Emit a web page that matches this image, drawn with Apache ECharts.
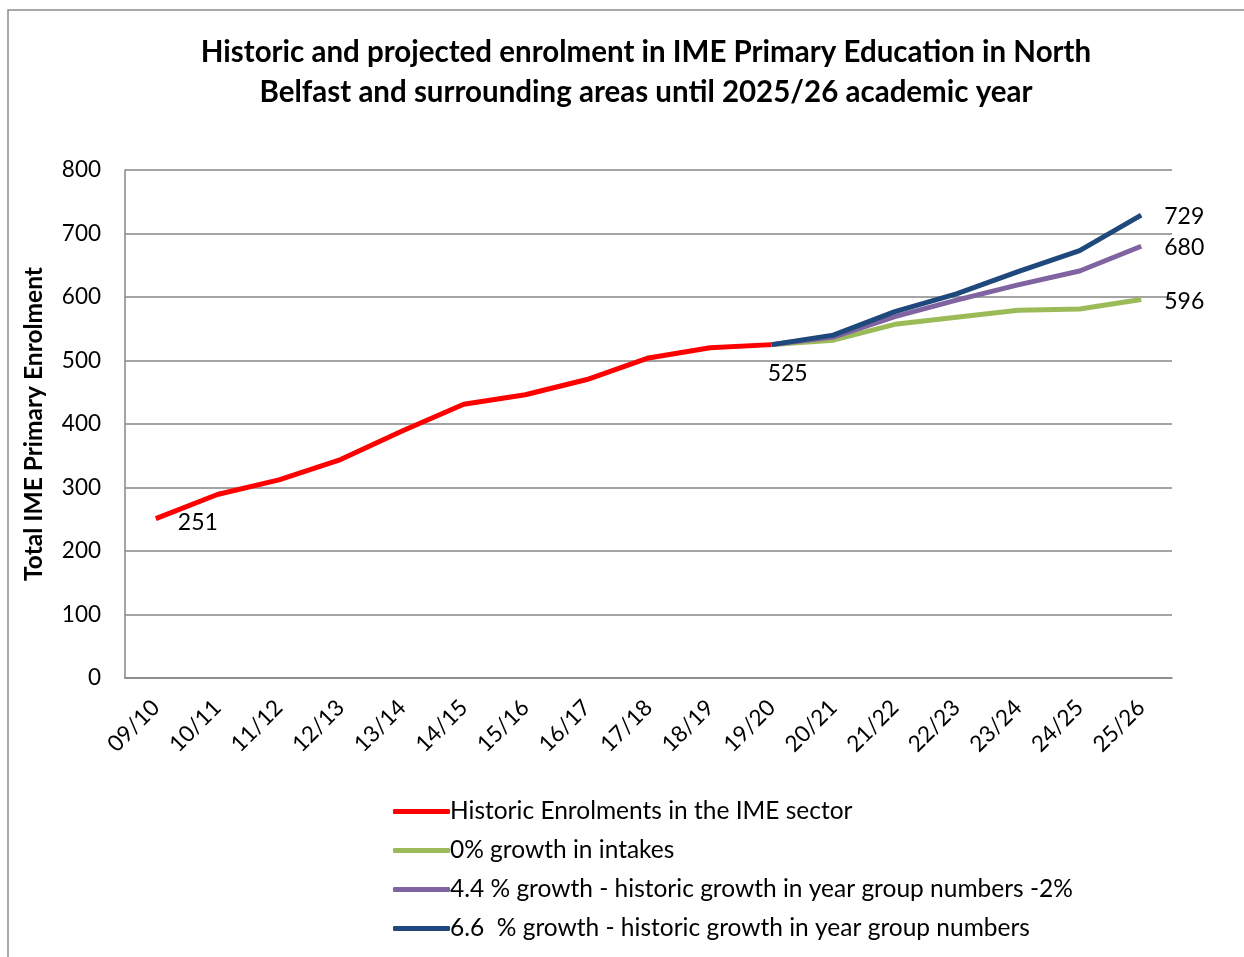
<!DOCTYPE html>
<html>
<head>
<meta charset="utf-8">
<script src="https://cdn.jsdelivr.net/npm/echarts@6/dist/echarts.min.js"></script>
<style>
html,body{margin:0;padding:0;background:#fff;}
#chart{width:1244px;height:957px;}
</style>
</head>
<body>
<div id="chart"></div>
<script>
const categories = ['09/10','10/11','11/12','12/13','13/14','14/15','15/16','16/17','17/18','18/19','19/20','20/21','21/22','22/23','23/24','24/25','25/26'];
const historic = [251, 289, 312, 344, 389, 431, 446, 470, 504, 520, 525, null, null, null, null, null, null];
const growth0 = [null, null, null, null, null, null, null, null, null, null, 525, 532, 557, 568, 579, 581, 596];
const growth44 = [null, null, null, null, null, null, null, null, null, null, 525, 537, 569, 595, 619, 641, 680];
const growth66 = [null, null, null, null, null, null, null, null, null, null, 525, 540, 577, 605, 640, 673, 729];
const seriesNames = ['Historic Enrolments in the IME sector', '0% growth in intakes', '4.4 % growth - historic growth in year group numbers -2%', '6.6  % growth - historic growth in year group numbers'];
const yTicks = [0, 100, 200, 300, 400, 500, 600, 700, 800];

const FONT = 'Lato, "Open Sans", sans-serif';
const labelStyle = {show: true, color: '#000', fontFamily: FONT, fontSize: 23};

function withLabels(arr, labelMap) {
  return arr.map((v, i) => {
    if (labelMap[i] && v !== null) {
      return {value: v, label: Object.assign({}, labelStyle, labelMap[i])};
    }
    return v;
  });
}

const chart = echarts.init(document.getElementById('chart'));
chart.setOption({
  backgroundColor: '#fff',
  animation: false,
  graphic: [{
    type: 'rect',
    shape: {x: 8, y: 10, width: 1260, height: 980},
    style: {fill: 'none', stroke: '#8c8c8c', lineWidth: 1.5},
    silent: true, z: -1
  }],
  title: {
    text: 'Historic and projected enrolment in IME Primary Education in North\nBelfast and surrounding areas until 2025/26 academic year',
    left: 641, top: 27, textAlign: 'center',
    textStyle: {fontFamily: FONT, fontWeight: 'bold', fontSize: 29.5, lineHeight: 40, color: '#000', align: 'center'}
  },
  grid: {left: 125, right: 72, top: 170, bottom: 279, containLabel: false},
  legend: {
    orient: 'vertical', left: 388, top: 794,
    itemWidth: 57, itemHeight: 5, itemGap: 14, icon: 'roundRect',
    textStyle: {fontFamily: FONT, fontSize: 24.5, color: '#000', padding: [0,0,0,-5]},
    data: seriesNames
  },
  xAxis: {
    type: 'category', data: categories, boundaryGap: true,
    axisLine: {show: true, lineStyle: {color: '#868686', width: 1.5}},
    axisTick: {show: false},
    axisLabel: {rotate: 45, margin: 26, color: '#000', fontFamily: FONT, fontSize: 22.5, interval: 0}
  },
  yAxis: {
    type: 'value', min: yTicks[0], max: yTicks[yTicks.length - 1], interval: 100,
    name: 'Total IME Primary Enrolment', nameLocation: 'middle', nameGap: 78,
    nameTextStyle: {fontFamily: FONT, fontWeight: 'bold', fontSize: 24.5, color: '#000'},
    axisLine: {show: true, lineStyle: {color: '#868686', width: 1.5}},
    axisTick: {show: false},
    axisLabel: {margin: 24, color: '#000', fontFamily: FONT, fontSize: 22.5},
    splitLine: {show: true, lineStyle: {color: '#868686', width: 1.5}}
  },
  series: [
    {
      name: seriesNames[0], type: 'line', data: withLabels(historic, {
        0: {position: 'right', distance: 22, offset: [0, 4]},
        10: {position: 'bottom', distance: 17, offset: [16, 0]}
      }),
      symbol: 'circle', symbolSize: 0, showSymbol: true,
      lineStyle: {color: '#ff0000', width: 5}, itemStyle: {color: '#ff0000'},
      label: {show: false}, z: 2
    },
    {
      name: seriesNames[1], type: 'line', data: withLabels(growth0, {16: {position: 'right', distance: 23, offset: [0, 2]}}),
      symbol: 'circle', symbolSize: 0, showSymbol: true,
      lineStyle: {color: '#9bbb59', width: 5}, itemStyle: {color: '#9bbb59'},
      label: {show: false}, z: 3
    },
    {
      name: seriesNames[2], type: 'line', data: withLabels(growth44, {16: {position: 'right', distance: 23, offset: [0, 1]}}),
      symbol: 'circle', symbolSize: 0, showSymbol: true,
      lineStyle: {color: '#8064a2', width: 5}, itemStyle: {color: '#8064a2'},
      label: {show: false}, z: 4
    },
    {
      name: seriesNames[3], type: 'line', data: withLabels(growth66, {16: {position: 'right', distance: 23, offset: [0, 1]}}),
      symbol: 'circle', symbolSize: 0, showSymbol: true,
      lineStyle: {color: '#1f497d', width: 5}, itemStyle: {color: '#1f497d'},
      label: {show: false}, z: 5
    }
  ]
});
</script>
</body>
</html>
